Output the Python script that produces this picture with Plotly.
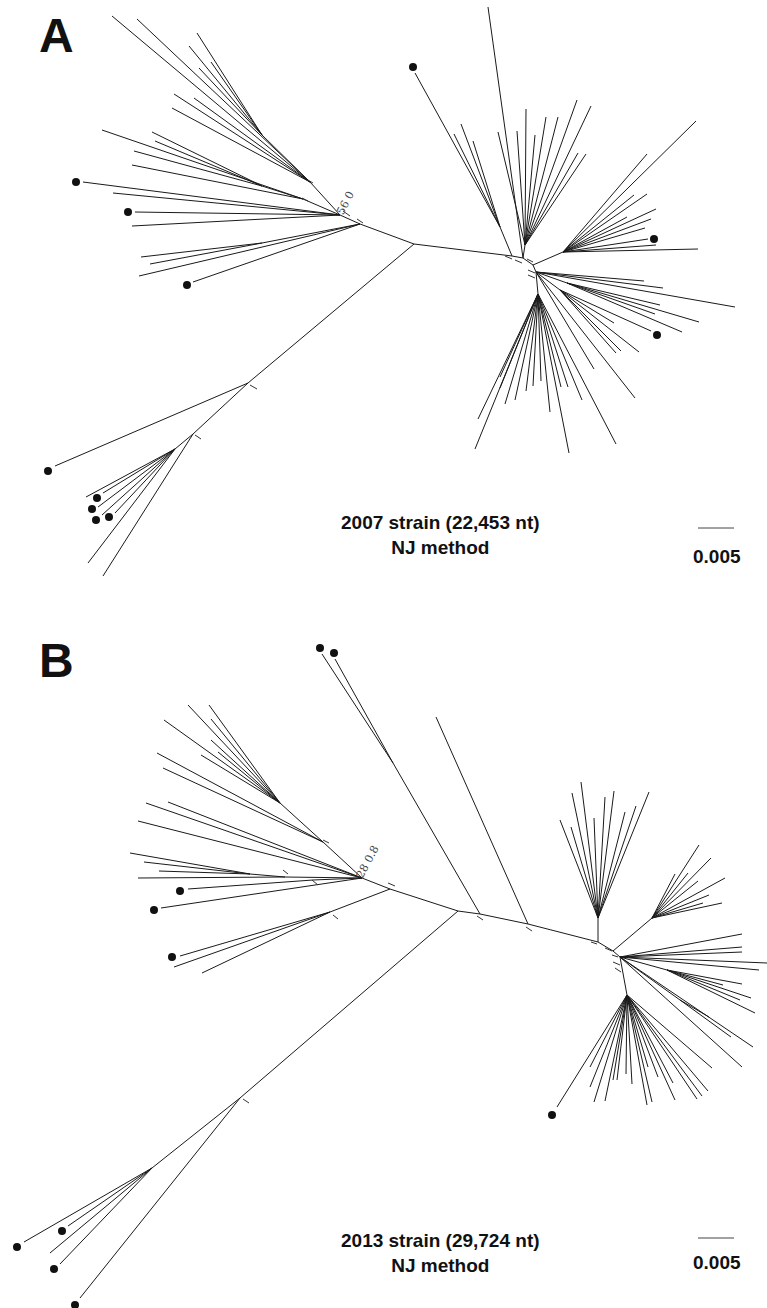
import plotly.graph_objects as go

# ---------------- Panel A (2007 strain) ----------------
# internal nodes: name, x, y, parent
A_nodes = [
    ("A1", 414, 244, None), ("A2", 360, 224, "A1"), ("A3", 340, 215, "A2"),
    ("A4", 310, 182, "A3"), ("A6", 262, 135, "A4"), ("A7", 303, 199, "A3"),
    ("A8", 262, 186, "A7"), ("A9", 262, 243, "A2"), ("A10", 248, 383, "A1"),
    ("A11", 193, 434, "A10"), ("A12", 175, 449, "A11"), ("A13", 512, 256, "A1"),
    ("A14", 500, 227, "A13"), ("A15", 523, 258, "A13"), ("A16", 525, 245, "A15"),
    ("A17", 533, 265, "A15"), ("A18", 563, 252, "A17"), ("A19", 536, 272, "A17"),
    ("A20", 560, 290, "A19"), ("A22", 567, 283, "A19"), ("A21", 538, 294, "A19"),
]
# leaf tips grouped by parent node
A_leaves = [
    ("A4", [(112, 16), (137, 19), (174, 94), (194, 98), (172, 108)]),
    ("A6", [(197, 33), (189, 46), (211, 62), (199, 68)]),
    ("A7", [(102, 130), (132, 165)]),
    ("A8", [(152, 132), (155, 141), (134, 151)]),
    ("A3", [(83, 182), (113, 193), (135, 212), (132, 226)]),
    ("A2", [(193, 282), (139, 276)]),
    ("A9", [(141, 257), (150, 264)]),
    ("A10", [(55, 466)]),
    ("A11", [(103, 576)]),
    ("A12", [(88, 563), (86, 497), (103, 493), (98, 507), (102, 515), (115, 513)]),
    ("A14", [(415, 73), (454, 134), (461, 124), (473, 141)]),
    ("A15", [(488, 7)]),
    ("A16", [(498, 132), (517, 131), (526, 109), (535, 135), (546, 117),
             (558, 117), (577, 100), (591, 106), (578, 153), (586, 154)]),
    ("A18", [(696, 121), (647, 154), (634, 195), (647, 194), (656, 209), (627, 217),
             (651, 219), (645, 228), (648, 239), (656, 245), (698, 249)]),
    ("A19", [(644, 281), (663, 288), (735, 307), (594, 369), (635, 398)]),
    ("A22", [(660, 305), (655, 314), (699, 322), (682, 332)]),
    ("A20", [(651, 331), (614, 323), (639, 352), (621, 351), (616, 353)]),
    ("A21", [(478, 419), (475, 449), (500, 377), (500, 388), (505, 404), (515, 400),
             (526, 391), (533, 386), (541, 381), (550, 412), (561, 387), (568, 387),
             (569, 453), (582, 400), (616, 444)]),
]
A_dot_x = [76, 128, 187, 48, 97, 92, 96, 109, 413, 654, 657]
A_dot_y = [182, 212, 285, 471, 498, 509, 520, 517, 67, 239, 335]
A_ticks = [((308, 180), (313, 183)), ((302, 198), (308, 201)), ((343, 211), (350, 216)),
           ((357, 219), (363, 223)), ((250, 385), (257, 389)), ((195, 435), (201, 439)),
           ((505, 256), (512, 259)), ((515, 260), (522, 263)), ((527, 259), (533, 262)),
           ((528, 270), (535, 273)), ((528, 275), (535, 278))]

# ---------------- Panel B (2013 strain) ----------------
B_nodes = [
    ("B1", 458, 911, None), ("B2", 390, 889, "B1"), ("B3", 362, 878, "B2"),
    ("B4", 323, 842, "B3"), ("B5", 280, 803, "B4"), ("B7", 285, 877, "B3"),
    ("B8", 250, 874, "B7"), ("B9", 313, 880, "B3"), ("B10", 330, 912, "B2"),
    ("B11", 240, 1098, "B1"), ("B12", 152, 1168, "B11"), ("B13", 480, 914, "B1"),
    ("B14", 393, 763, "B13"), ("B15", 528, 924, "B13"), ("B16", 598, 942, "B15"),
    ("B17", 598, 918, "B16"), ("B18", 613, 951, "B16"), ("B19", 652, 918, "B18"),
    ("B20", 620, 957, "B18"), ("B21", 667, 970, "B20"), ("B23", 680, 1000, "B20"),
    ("B22", 627, 995, "B20"),
]
B_leaves = [
    ("B5", [(188, 705), (209, 705), (164, 720), (211, 719), (211, 740), (218, 752), (201, 755)]),
    ("B4", [(157, 753), (163, 768)]),
    ("B3", [(146, 803), (168, 802), (138, 821), (161, 908)]),
    ("B8", [(130, 853), (144, 862), (159, 871)]),
    ("B7", [(138, 878)]),
    ("B9", [(188, 889)]),
    ("B10", [(180, 956), (174, 967), (202, 973)]),
    ("B12", [(24, 1242), (68, 1226), (50, 1253), (60, 1264)]),
    ("B11", [(80, 1298)]),
    ("B14", [(322, 654), (335, 659)]),
    ("B15", [(436, 717)]),
    ("B17", [(560, 820), (572, 793), (571, 827), (581, 782), (594, 818), (605, 797),
             (614, 791), (625, 812), (636, 806), (649, 792)]),
    ("B19", [(699, 845), (711, 858), (675, 874), (688, 873), (698, 881), (725, 878),
             (709, 895), (703, 903), (722, 903)]),
    ("B21", [(742, 984), (723, 985), (751, 998), (740, 1000), (755, 1013)]),
    ("B23", [(709, 1017), (731, 1037)]),
    ("B20", [(742, 934), (742, 947), (742, 952), (767, 963), (759, 970),
             (753, 1047), (742, 1067)]),
    ("B22", [(557, 1107), (590, 1067), (590, 1087), (594, 1102), (605, 1101), (613, 1080),
             (617, 1080), (626, 1074), (632, 1084), (647, 1105), (652, 1102), (648, 1067),
             (658, 1077), (673, 1083), (675, 1100), (697, 1099), (702, 1096), (708, 1091),
             (712, 1068)]),
]
B_dot_x = [180, 154, 172, 17, 62, 54, 75, 320, 334, 552]
B_dot_y = [891, 910, 957, 1247, 1231, 1269, 1305, 648, 653, 1115]
B_ticks = [((323, 840), (329, 843)), ((283, 870), (288, 874)), ((312, 880), (318, 885)),
           ((388, 883), (395, 886)), ((333, 915), (338, 919)), ((243, 1099), (249, 1103)),
           ((477, 916), (483, 920)), ((526, 927), (532, 931)), ((591, 942), (597, 944)),
           ((605, 948), (612, 951)), ((612, 955), (618, 957)), ((613, 962), (620, 965)),
           ((615, 968), (621, 972))]

panel_letters = ["A", "B"]
captions = ["2007 strain (22,453 nt)<br>NJ method", "2013 strain (29,724 nt)<br>NJ method"]
scale_label = "0.005"
bootstrap_labels = ["56 0", "28 0.8"]


def tree_xy(nodes, leaves):
    pos = {n: (x, y) for n, x, y, p in nodes}
    xs, ys = [], []
    for n, x, y, p in nodes:
        if p is not None:
            px, py = pos[p]
            xs += [px, x, None]
            ys += [py, y, None]
    for p, tips in leaves:
        px, py = pos[p]
        for tx, ty in tips:
            xs += [px, tx, None]
            ys += [py, ty, None]
    return xs, ys


def ticks_xy(ticks):
    xs, ys = [], []
    for (x0, y0), (x1, y1) in ticks:
        xs += [x0, x1, None]
        ys += [y0, y1, None]
    return xs, ys


fig = go.Figure()
for nodes, leaves, ticks, dx, dy in [(A_nodes, A_leaves, A_ticks, A_dot_x, A_dot_y),
                                     (B_nodes, B_leaves, B_ticks, B_dot_x, B_dot_y)]:
    lx, ly = tree_xy(nodes, leaves)
    fig.add_trace(go.Scatter(x=lx, y=ly, mode="lines",
                             line=dict(color="#1a1a1a", width=1), hoverinfo="skip"))
    tx, ty = ticks_xy(ticks)
    fig.add_trace(go.Scatter(x=tx, y=ty, mode="lines",
                             line=dict(color="#333333", width=1), hoverinfo="skip"))
    fig.add_trace(go.Scatter(x=dx, y=dy, mode="markers",
                             marker=dict(color="#111111", size=8), hoverinfo="skip"))

# scale bars (0.005 substitutions/site)
scale_y = [528, 1238]
for sy in scale_y:
    fig.add_trace(go.Scatter(x=[698, 734], y=[sy, sy], mode="lines",
                             line=dict(color="#444444", width=1), hoverinfo="skip"))

font_fam = "Liberation Sans, Arial"
fig.add_annotation(x=56, y=35, text="<b>" + panel_letters[0] + "</b>", showarrow=False,
                   font=dict(family=font_fam, size=48, color="#111111"))
fig.add_annotation(x=56, y=660, text="<b>" + panel_letters[1] + "</b>", showarrow=False,
                   font=dict(family=font_fam, size=48, color="#111111"))
fig.add_annotation(x=440, y=535, text="<b>" + captions[0] + "</b>", showarrow=False,
                   font=dict(family=font_fam, size=19, color="#111111"))
fig.add_annotation(x=440, y=1253, text="<b>" + captions[1] + "</b>", showarrow=False,
                   font=dict(family=font_fam, size=19, color="#111111"))
fig.add_annotation(x=717, y=556, text="<b>" + scale_label + "</b>", showarrow=False,
                   font=dict(family=font_fam, size=19, color="#111111"))
fig.add_annotation(x=717, y=1262, text="<b>" + scale_label + "</b>", showarrow=False,
                   font=dict(family=font_fam, size=19, color="#111111"))
fig.add_annotation(x=345, y=203, text=bootstrap_labels[0], showarrow=False, textangle=-62,
                   font=dict(family="DejaVu Serif", size=11, color="#444444"))
fig.add_annotation(x=367, y=862, text=bootstrap_labels[1], showarrow=False, textangle=-62,
                   font=dict(family="DejaVu Serif", size=11, color="#444444"))

fig.update_layout(width=767, height=1308, margin=dict(l=0, r=0, t=0, b=0),
                  paper_bgcolor="white", plot_bgcolor="white", showlegend=False)
fig.update_xaxes(range=[0, 767], visible=False, fixedrange=True)
fig.update_yaxes(range=[1308, 0], visible=False, fixedrange=True)
fig.write_html("out.html", config={"displayModeBar": False},
               post_script="document.body.style.margin='0';document.body.style.overflow='hidden';")
